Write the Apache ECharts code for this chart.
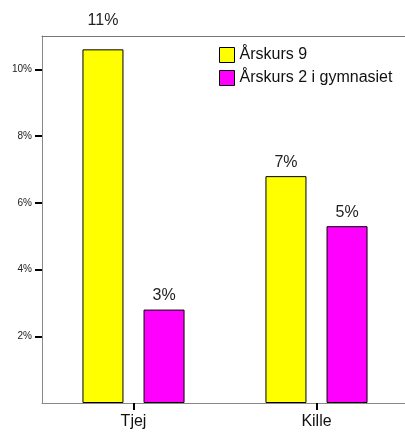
<!DOCTYPE html>
<html><head><meta charset="utf-8">
<script src="https://cdn.jsdelivr.net/npm/echarts@6/dist/echarts.min.js"></script>
<style>html,body{margin:0;padding:0;background:#fff;overflow:hidden;width:405px;height:432px}#c{width:412px;height:432px}</style>
</head><body><div id="c"></div>
<script>
const categories = ['Tjej', 'Kille'];
const seriesNames = ['Årskurs 9', 'Årskurs 2 i gymnasiet'];
const grade9 = [10.6, 6.8];
const grade2 = [2.8, 5.3];
const labels9 = ['11%', '7%'];
const labels2 = ['3%', '5%'];
const yTicks = [2, 4, 6, 8, 10];

const chart = echarts.init(document.getElementById('c'), null, {renderer: 'canvas'});
const font = 'Liberation Sans, Arial, sans-serif';
function mk(vals, labs, color, name) {
  return {
    name: name, type: 'bar', barWidth: 41, barGap: '49%',
    itemStyle: {color: color, borderColor: '#000', borderWidth: 1},
    data: vals.map((v, i) => ({
      value: v,
      label: {show: true, position: 'top', distance: (name === seriesNames[0] && i === 0) ? 21 : 6,
        formatter: labs[i], fontSize: 16, color: '#222', fontFamily: font}
    }))
  };
}
chart.setOption({
  animation: false,
  textStyle: {fontFamily: font},
  grid: {left: 42, top: 36, right: 4, bottom: 29, show: false, containLabel: false},
  legend: {
    orient: 'vertical', left: 214, top: 42, itemWidth: 15, itemHeight: 15, itemGap: 7,
    icon: 'rect', textStyle: {fontSize: 16, color: '#111', fontFamily: font},
    data: seriesNames.map(n => ({name: n, itemStyle: {borderColor: '#000', borderWidth: 1}}))
  },
  xAxis: [{
    type: 'category', data: categories,
    axisLine: {lineStyle: {color: '#888', width: 1}},
    axisTick: {show: true, alignWithLabel: true, length: 7, lineStyle: {color: '#000', width: 2}},
    axisLabel: {fontSize: 16, color: '#111', margin: 11, fontFamily: font}
  }, {
    type: 'category', data: categories, position: 'top',
    axisLine: {show: true, lineStyle: {color: '#777', width: 1}},
    axisTick: {show: false}, axisLabel: {show: false}
  }],
  yAxis: {
    type: 'value', min: 0, max: 11, interval: 2,
    splitLine: {show: false},
    axisLine: {show: true, lineStyle: {color: '#888', width: 1}},
    axisTick: {show: true, length: 7, customValues: yTicks, lineStyle: {color: '#000', width: 2}},
    axisLabel: {fontSize: 10, color: '#222', margin: 10, customValues: yTicks,
      formatter: v => (yTicks.indexOf(v) >= 0 ? v + '%' : ''), fontFamily: font}
  },
  series: [mk(grade9, labels9, '#ffff00', seriesNames[0]), mk(grade2, labels2, '#ff00ff', seriesNames[1])]
});
</script></body></html>
